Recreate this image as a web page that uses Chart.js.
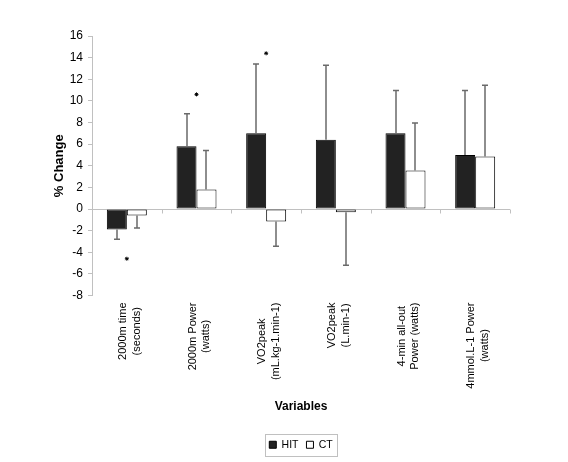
<!DOCTYPE html>
<html>
<head>
<meta charset="utf-8">
<title>% Change by variable</title>
<script src="https://cdn.jsdelivr.net/npm/chart.js@4.4.0/dist/chart.umd.min.js"></script>
<style>
  body { margin: 0; background: #fff; }
  #chartContainer { width: 568px; height: 462px; }
</style>
</head>
<body>
<div id="chartContainer"><canvas id="changeChart" width="568" height="462"></canvas></div>
<script>
// Data
const variableLabels = [
    ['2000m time', '(seconds)'],
    ['2000m Power', '(watts)'],
    ['VO2peak', '(mL.kg-1.min-1)'],
    ['VO2peak', '(L.min-1)'],
    ['4-min all-out', 'Power (watts)'],
    ['4mmol.L-1 Power', '(watts)']
];
const hitValues = [-1.9, 5.8, 7.0, 6.4, 7.0, 5.0];
const hitErrors = [0.9, 3.0, 6.4, 6.9, 3.95, 5.95];
const ctValues = [-0.6, 1.8, -1.15, -0.3, 3.55, 4.85];
const ctErrors = [1.15, 3.6, 2.3, 4.9, 4.4, 6.6];
// significance markers (*), null where there is none
const starValues = [-4.6, 10.6, 14.4, null, null, null];
const yMin = -8;
const yMax = 16;
const yStep = 2;

const axisGray = '#c0c0c0';
const fontFamily = "'Liberation Sans', Arial, sans-serif";
Chart.defaults.font.family = fontFamily;

//Plugin for the one-sided error bars (up for positive bars, down for negative)
const errorBarsPlugin = {
    id: 'errorBars',
    afterDatasetsDraw(chart) {
        const ctx = chart.ctx;
        const yScale = chart.scales.y;
        const errorSets = [hitErrors, ctErrors];
        ctx.save();
        ctx.strokeStyle = '#6a6a6a';
        ctx.lineWidth = 1.5;
        errorSets.forEach((errors, dsIndex) => {
            let meta = chart.getDatasetMeta(dsIndex);
            meta.data.forEach((bar, i) => {
                let value = chart.data.datasets[dsIndex].data[i];
                let end = value < 0 ? value - errors[i] : value + errors[i];
                let x = Math.round(bar.x);
                let y0 = yScale.getPixelForValue(value);
                let y1 = yScale.getPixelForValue(end);
                ctx.beginPath();
                ctx.moveTo(x, y0);
                ctx.lineTo(x, y1);
                ctx.moveTo(x - 3, y1);
                ctx.lineTo(x + 3, y1);
                ctx.stroke();
            });
        });
        ctx.restore();
    }
};

//Plugin for the category ticks on the zero line and the rotated category names
const categoryAxisPlugin = {
    id: 'categoryAxis',
    beforeDatasetsDraw(chart) {
        const ctx = chart.ctx;
        const xScale = chart.scales.x;
        const zeroY = Math.round(chart.scales.y.getPixelForValue(0)) + 0.5;
        ctx.save();
        ctx.strokeStyle = axisGray;
        ctx.lineWidth = 1;
        ctx.beginPath();
        for (let i = 1; i <= variableLabels.length; i++) {
            let x = Math.round(xScale.getPixelForValue(i - 0.5)) + 0.5;
            ctx.moveTo(x, zeroY);
            ctx.lineTo(x, zeroY + 4);
        }
        ctx.stroke();
        ctx.restore();
    },
    afterDraw(chart) {
        const ctx = chart.ctx;
        const xScale = chart.scales.x;
        const top = chart.chartArea.bottom + 7;
        const lineHeight = 13.5;
        ctx.save();
        ctx.fillStyle = '#000';
        ctx.font = `11px ${fontFamily}`;
        ctx.textAlign = 'center';
        ctx.textBaseline = 'middle';
        variableLabels.forEach((lines, i) => {
            let longest = Math.max(...lines.map(l => ctx.measureText(l).width));
            ctx.save();
            ctx.translate(xScale.getPixelForTick(i) + 3, top);
            ctx.rotate(-Math.PI / 2);
            lines.forEach((line, j) => {
                ctx.fillText(line, -longest / 2, (j - (lines.length - 1) / 2) * lineHeight);
            });
            ctx.restore();
        });
        ctx.restore();
    }
};

//Plugin for the thin frame round the legend
const legendFramePlugin = {
    id: 'legendFrame',
    afterDraw(chart) {
        const boxes = chart.legend.legendHitBoxes;
        if (!boxes || !boxes.length) return;
        const first = boxes[0];
        const last = boxes[boxes.length - 1];
        const midY = first.top + first.height / 2;
        const ctx = chart.ctx;
        ctx.save();
        ctx.strokeStyle = axisGray;
        ctx.lineWidth = 1;
        let left = Math.round(first.left - 4) + 0.5;
        let right = Math.round(last.left + last.width + 4) + 0.5;
        ctx.strokeRect(left, Math.round(midY - 11) + 0.5, right - left, 22);
        ctx.restore();
    }
};

new Chart(document.getElementById('changeChart'), {
    type: 'bar',
    data: {
        labels: variableLabels.map(l => l.join(' ')),
        datasets: [{
            label: 'HIT',
            data: hitValues,
            backgroundColor: '#222222',
            borderColor: '#000000',
            borderWidth: 1,
            borderSkipped: false,
            categoryPercentage: 0.574,
            barPercentage: 1
        }, {
            label: 'CT',
            data: ctValues,
            backgroundColor: '#ffffff',
            borderColor: '#000000',
            borderWidth: 1,
            borderSkipped: false,
            categoryPercentage: 0.574,
            barPercentage: 1
        }, {
            type: 'line',
            label: '*',
            data: starValues,
            showLine: false,
            pointStyle: 'star',
            pointRadius: 2,
            pointBorderColor: '#000000',
            pointBackgroundColor: '#000000',
            pointBorderWidth: 1
        }]
    },
    options: {
        responsive: false,
        animation: false,
        events: [],
        layout: { padding: { top: 36, right: 58, bottom: 2, left: 0 } },
        plugins: {
            legend: {
                position: 'bottom',
                fullSize: false,
                labels: {
                    filter: item => item.datasetIndex < 2,
                    boxWidth: 7,
                    boxHeight: 7,
                    padding: 8,
                    color: '#000',
                    font: { size: 10.5 }
                }
            },
            tooltip: { enabled: false }
        },
        scales: {
            x: {
                grid: { display: false },
                border: { display: false },
                ticks: { display: false },
                title: {
                    display: true,
                    text: 'Variables',
                    color: '#000',
                    font: { size: 12, weight: 'bold' },
                    padding: { top: 0, bottom: 18 }
                },
                afterFit: scale => { scale.height = 136; }
            },
            y: {
                min: yMin,
                max: yMax,
                ticks: { stepSize: yStep, padding: 5, color: '#000', font: { size: 12 } },
                grid: {
                    color: c => c.tick && c.tick.value === 0 ? axisGray : 'rgba(0,0,0,0)',
                    tickColor: axisGray,
                    tickLength: 4
                },
                border: { display: true, color: axisGray },
                title: {
                    display: true,
                    text: '% Change',
                    color: '#000',
                    font: { size: 13, weight: 'bold' },
                    padding: { top: 52, bottom: 0 }
                },
                afterFit: scale => { scale.width = 92; }
            }
        }
    },
    plugins: [categoryAxisPlugin, errorBarsPlugin, legendFramePlugin]
});
</script>
</body>
</html>
